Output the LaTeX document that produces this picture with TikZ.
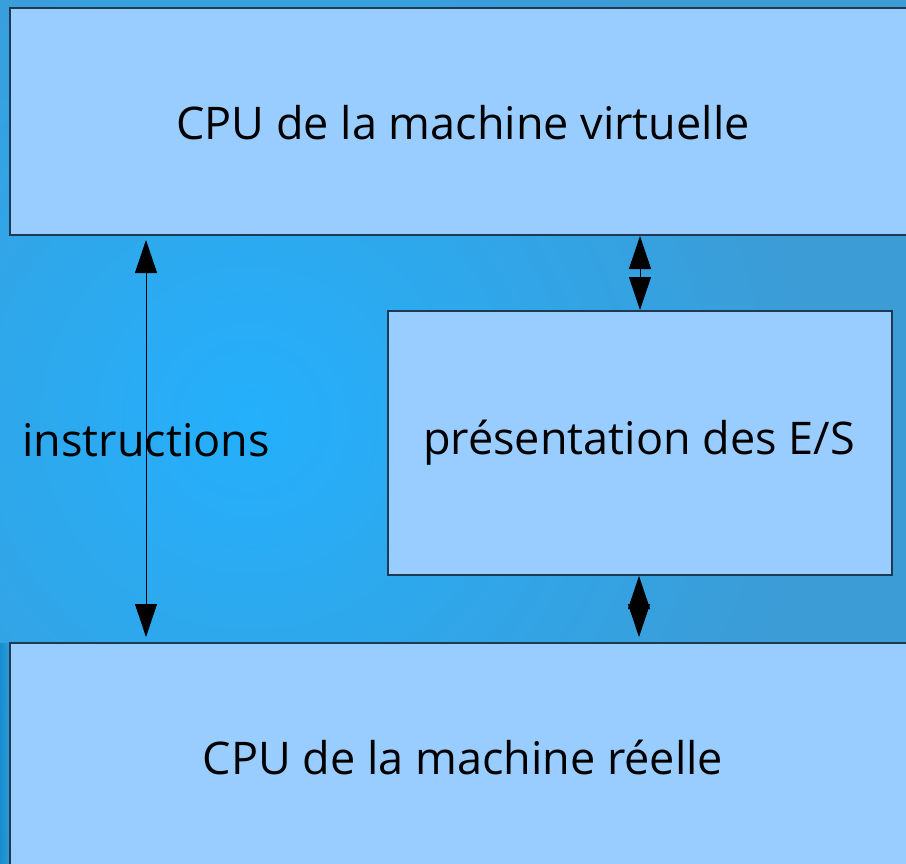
\documentclass[tikz,border=0pt]{standalone}
\usepackage{fontspec}
\setmainfont{Open Sans}
\usetikzlibrary{arrows.meta}
\definecolor{boxfill}{HTML}{99CCFF}
\definecolor{boxline}{HTML}{1E3A52}
\definecolor{bgmid}{HTML}{24B0FC}
\definecolor{bgedge}{HTML}{3C9CD6}
\definecolor{bgdark}{HTML}{0E88CC}
\tikzset{
  panel/.style={draw=boxline, line width=1.1pt, fill=boxfill},
  caption/.style={font=\fontsize{45}{54}\selectfont, text=black, inner sep=0pt},
  link/.style={line width=0.9pt, {Triangle[length=33pt,width=22pt]}-{Triangle[length=33pt,width=22pt]}}
}
\begin{document}
\begin{tikzpicture}[x=1pt,y=-1pt]
  % backdrop
  \useasboundingbox (0,0) rectangle (906,864);
  \fill[bgedge] (0,0) rectangle (906,864);
  \shade[inner color=bgmid, outer color=bgedge] (250,420) circle (560);
  \shade[left color=bgdark, right color=bgdark!0!bgedge, opacity=0.8] (0,643) rectangle (12,864);

  % boxes
  \draw[panel] (10,8) rectangle (912,235);
  \draw[panel] (388,311) rectangle (892,575);
  \draw[panel] (10,643) rectangle (912,872);

  \node[caption] (vcpu) at (463,123) {CPU de la machine virtuelle};
  \node[caption] (io) at (639,443) {présentation des E/S};
  \node[caption] (rcpu) at (463,757) {CPU de la machine réelle};

  % connector end points on the box edges
  \coordinate (vl) at (146,240);
  \coordinate (rl) at (146,637);
  \coordinate (vr) at (640,236);
  \coordinate (ioT) at (640,310);
  \coordinate (ioB) at (639,576);
  \coordinate (rr) at (639,637);

  \draw[link] (vl) -- (rl);
  \draw[link] (vr) -- (ioT);
  \draw[link] (ioB) -- (rr);

  \node[caption] (instr) at (146,440) {instructions};
\end{tikzpicture}
\end{document}
